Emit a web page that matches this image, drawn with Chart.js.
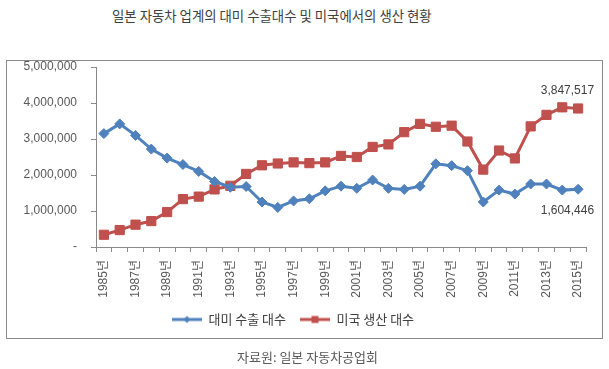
<!DOCTYPE html>
<html>
<head>
<meta charset="utf-8">
<script src="https://cdn.jsdelivr.net/npm/chart.js@4.4.1/dist/chart.umd.min.js"></script>
<style>
  body { margin: 0; background: #fff; font-family: 'Noto Sans CJK KR', sans-serif; }
  #wrap { position: relative; width: 609px; height: 369px; overflow: hidden; }
  #box { position: absolute; left: 6px; top: 60px; width: 597px; height: 279px; box-sizing: border-box; border: 1px solid #8a8a8a; }
  #title { position: absolute; left: 112px; top: 5px; font-size: 13.4px; color: #404040; white-space: nowrap; }
  #source { position: absolute; left: 237px; top: 347px; font-size: 13px; color: #595959; white-space: nowrap; }
  canvas { position: absolute; left: 0; top: 0; }
</style>
</head>
<body>
<div id="wrap">
  <div id="title">일본 자동차 업계의 대미 수출대수 및 미국에서의 생산 현황</div>
  <div id="box"></div>
  <canvas id="lineChart" width="609" height="369"></canvas>
  <div id="source">자료원: 일본 자동차공업회</div>
</div>
<script>
// data
var years = ['1985','1986','1987','1988','1989','1990','1991','1992','1993','1994',
             '1995','1996','1997','1998','1999','2000','2001','2002','2003','2004',
             '2005','2006','2007','2008','2009','2010','2011','2012','2013','2014','2015'];
var exportToUS = [3150000, 3420000, 3100000, 2720000, 2470000, 2290000, 2100000, 1820000, 1660000, 1680000,
                  1250000, 1100000, 1280000, 1340000, 1560000, 1690000, 1630000, 1860000, 1630000, 1600000,
                  1690000, 2310000, 2260000, 2120000, 1250000, 1580000, 1470000, 1750000, 1750000, 1580000, 1604446];
var usProduction = [340000, 470000, 620000, 720000, 970000, 1330000, 1400000, 1600000, 1700000, 2030000,
                    2270000, 2320000, 2350000, 2330000, 2350000, 2530000, 2500000, 2780000, 2850000, 3190000,
                    3420000, 3340000, 3370000, 2930000, 2150000, 2680000, 2460000, 3350000, 3670000, 3880000, 3847517];
var seriesNames = ['대미 수출 대수', '미국 생산 대수'];
var yTicks = [0, 1000000, 2000000, 3000000, 4000000, 5000000];

var blue = '#4F81BD';
var red = '#C0504D';
var tickFont = "'Liberation Sans', 'Noto Sans CJK KR', sans-serif";

// legend icon: short line with the marker in the middle
function legendIcon(color, shape) {
    var c = document.createElement('canvas');
    c.width = 30;
    c.height = 12;
    var g = c.getContext('2d');
    g.strokeStyle = color;
    g.lineWidth = 3;
    g.beginPath();
    g.moveTo(0, 6);
    g.lineTo(30, 6);
    g.stroke();
    g.fillStyle = color;
    g.beginPath();
    if (shape == 'diamond') {
        g.moveTo(15, 2.5); g.lineTo(18.5, 6); g.lineTo(15, 9.5); g.lineTo(11.5, 6);
    } else {
        g.rect(11.5, 2.5, 7, 7);
    }
    g.closePath();
    g.fill();
    return c;
}
var icons = [legendIcon(blue, 'diamond'), legendIcon(red, 'square')];

// value labels on the last points
var lastLabels = {
    id: 'lastLabels',
    afterDatasetsDraw: function(chart) {
        var ctx = chart.ctx;
        ctx.save();
        ctx.font = "12px " + tickFont;
        ctx.fillStyle = '#404040';
        ctx.textAlign = 'right';
        ctx.textBaseline = 'middle';
        var offsets = [21, -18];
        chart.data.datasets.forEach(function(ds, i) {
            var meta = chart.getDatasetMeta(i);
            var pt = meta.data[meta.data.length - 1];
            var val = ds.data[ds.data.length - 1];
            ctx.fillText(val.toLocaleString('en-US'), pt.x + 16, pt.y + offsets[i]);
        });
        ctx.restore();
    }
};

var chartSelector = document.getElementById('lineChart');
var lineChart = new Chart(chartSelector, {
    type: 'line',
    data: {
        labels: years,
        datasets: [
            {
                label: seriesNames[0],
                data: exportToUS,
                borderColor: blue,
                backgroundColor: blue,
                borderWidth: 3,
                pointStyle: 'rectRot',
                pointRadius: 5,
                pointBorderWidth: 1,
                tension: 0
            },
            {
                label: seriesNames[1],
                data: usProduction,
                borderColor: red,
                backgroundColor: red,
                borderWidth: 3,
                pointStyle: 'rect',
                pointRadius: 6.5,
                pointBorderWidth: 1,
                tension: 0
            }]
    },
    options: {
        responsive: false,
        animation: false,
        layout: { padding: { left: 0, right: 23, top: 67, bottom: 33 } },
        plugins: {
            legend: {
                position: 'bottom',
                labels: {
                    usePointStyle: true,
                    pointStyleWidth: 30,
                    padding: 14,
                    color: '#404040',
                    font: { family: "'Noto Sans CJK KR', sans-serif", size: 13 },
                    generateLabels: function(chart) {
                        return chart.data.datasets.map(function(ds, i) {
                            return { text: ds.label, pointStyle: icons[i], datasetIndex: i,
                                     fillStyle: ds.borderColor, strokeStyle: ds.borderColor, lineWidth: 0, fontColor: '#404040' };
                        });
                    }
                }
            },
            tooltip: { enabled: false }
        },
        scales: {
            x: {
                offset: true,
                grid: { display: true, drawOnChartArea: false, offset: true, tickLength: 5, color: '#8a8a8a' },
                border: { color: '#8a8a8a' },
                ticks: {
                    autoSkip: false,
                    maxRotation: 90,
                    minRotation: 90,
                    padding: 8,
                    color: '#595959',
                    font: { family: tickFont, size: 12 },
                    callback: function(val, index) {
                        return index % 2 == 0 ? years[index] + '년' : '';
                    }
                },
                afterFit: function(scale) { scale.height = 52; }
            },
            y: {
                min: 0,
                max: 5000000,
                grid: { display: true, drawOnChartArea: false, tickLength: 5, color: '#8a8a8a' },
                border: { color: '#8a8a8a' },
                afterBuildTicks: function(scale) {
                    scale.ticks = yTicks.map(function(v) { return { value: v }; });
                },
                ticks: {
                    padding: 14,
                    color: '#595959',
                    font: { family: tickFont, size: 12 },
                    callback: function(val) {
                        return val == 0 ? '-' : val.toLocaleString('en-US');
                    }
                },
                afterFit: function(scale) { scale.width = 96; }
            }
        }
    },
    plugins: [lastLabels]
});
</script>
</body>
</html>
